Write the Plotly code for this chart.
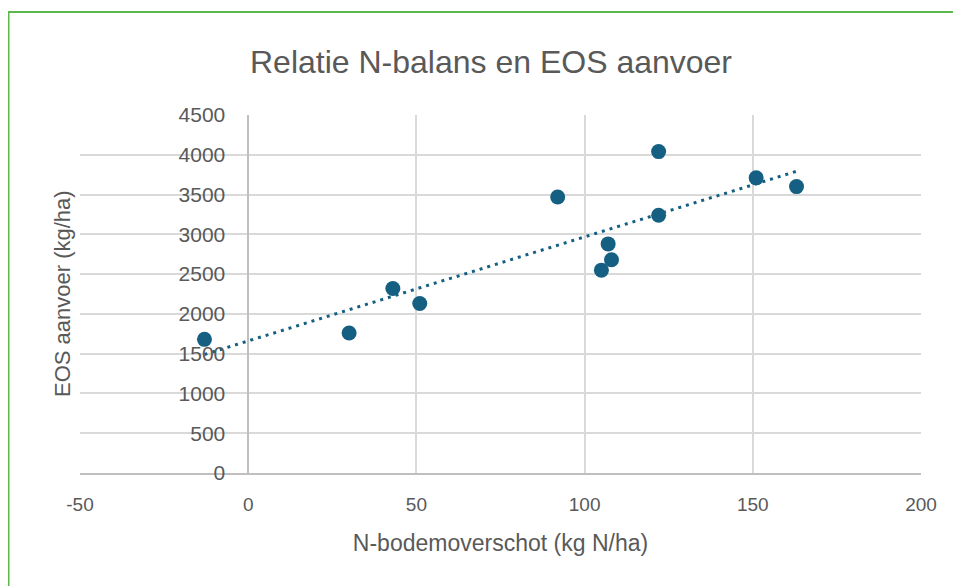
import numpy as np
import plotly.graph_objects as go

# Data
n_surplus = [-13, 30, 43, 51, 92, 105, 107, 108, 122, 122, 151, 163]
eos_supply = [1680, 1760, 2320, 2130, 3470, 2550, 2880, 2680, 4040, 3240, 3710, 3600]

title_text = "Relatie N-balans en EOS aanvoer"
x_title = "N-bodemoverschot (kg N/ha)"
y_title = "EOS aanvoer (kg/ha)"
x_ticks = [-50, 0, 50, 100, 150, 200]
x_ticktext = ["-50", "0", "50", "100", "150", "200"]
y_ticks = [0, 500, 1000, 1500, 2000, 2500, 3000, 3500, 4000, 4500]

color = "#156082"
text_color = "#595959"
grid_color = "#d9d9d9"
narrow = "Liberation Sans Narrow, Arial Narrow, Liberation Sans, sans-serif"
regular = "Liberation Sans, Arial, sans-serif"

# Linear trendline (least squares) over the data range
slope, intercept = np.polyfit(n_surplus, eos_supply, 1)
tx = [min(n_surplus), max(n_surplus)]
ty = [slope * v + intercept for v in tx]

# page has an 8px body margin; figure coordinates are window coords minus 8
W, H = 953, 578
ml, mr, mt, mb = 72, 40, 107, 113
pw, ph = W - ml - mr, H - mt - mb

fig = go.Figure()
fig.add_trace(go.Scatter(
    x=tx, y=ty, mode="lines",
    line=dict(color=color, width=3, dash="3px,5px"),
    hoverinfo="skip", showlegend=False))
fig.add_trace(go.Scatter(
    x=n_surplus, y=eos_supply, mode="markers",
    marker=dict(color=color, size=15),
    showlegend=False))

ypos = (0 - (-50)) / 250

fig.update_layout(
    width=W, height=H,
    margin=dict(l=ml, r=mr, t=mt, b=mb),
    paper_bgcolor="white", plot_bgcolor="white",
    title=dict(text=title_text, x=483 / W, xanchor="center",
               y=1 - 54 / H, yanchor="middle",
               font=dict(family=narrow, size=32, color=text_color)),
    xaxis=dict(range=[-50, 200], tickvals=x_ticks, ticktext=x_ticktext,
               showgrid=True, gridcolor=grid_color, gridwidth=1.5,
               zeroline=False, showline=True, linecolor="#bfbfbf",
               linewidth=1.5, ticks="", ticklabelstandoff=13,
               tickfont=dict(family=narrow, size=19, color=text_color),
               title=dict(text=x_title, standoff=21,
                          font=dict(family=narrow, size=23, color=text_color))),
    yaxis=dict(range=[0, 4500], tickvals=y_ticks, showgrid=True,
               gridcolor=grid_color, gridwidth=1.5, zeroline=False,
               anchor="free", position=ypos,
               showline=True, linecolor="#bfbfbf", linewidth=1.5,
               ticks="", ticklabelstandoff=18,
               tickfont=dict(family=regular, size=21, color=text_color)),
    annotations=[dict(text=y_title, xref="paper", yref="paper",
                      x=(54 - ml) / pw, y=0.5,
                      xanchor="center", yanchor="middle", textangle=-90,
                      showarrow=False,
                      font=dict(family=regular, size=22, color=text_color))],
    shapes=[dict(type="path", xref="paper", yref="paper",
                 path="M {x0},{y0} L {x0},{y1} L {x2},{y1}".format(
                     x0=(0.5 - ml) / pw, y0=-0.5,
                     y1=1 + (mt - 4) / ph, x2=1 + (mr + 20) / pw),
                 line=dict(color="#5cb84a", width=2))],
)

fig.write_html("out.html")
